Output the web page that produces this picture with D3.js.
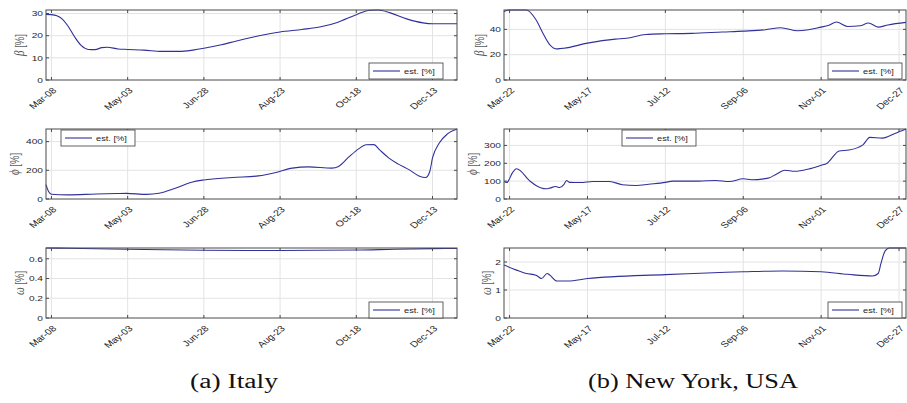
<!DOCTYPE html>
<html>
<head>
<meta charset="utf-8">
<script src="https://cdn.jsdelivr.net/npm/d3@7/dist/d3.min.js"></script>
<style>
body{margin:0;background:#fff}
text{font-family:"Liberation Sans",Arial,sans-serif;fill:#262626}
</style>
</head>
<body>
<svg id="fig" width="907" height="403"></svg>
<script>
// values, [date, value]
var italyBeta=[["2020-03-04",29.6],["2020-03-08",29.5],["2020-03-12",29],["2020-03-16",27.5],["2020-03-20",24.5],
	["2020-03-25",19.5],["2020-03-30",15.5],["2020-04-04",13.8],["2020-04-09",13.7],["2020-04-14",14.6],["2020-04-18",14.8],
	["2020-04-26",14.0],["2020-05-03",13.8],["2020-05-15",13.5],["2020-05-28",12.9],["2020-06-10",12.9],["2020-06-20",13.5],
	["2020-06-28",14.3],["2020-07-10",15.8],["2020-07-22",17.6],["2020-08-05",19.6],["2020-08-23",21.7],["2020-09-08",22.8],
	["2020-09-22",24],["2020-10-04",26],["2020-10-18",29.5],["2020-10-28",31.5],["2020-11-03",31.6],["2020-11-12",30.3],
	["2020-11-24",27.6],["2020-12-06",25.8],["2020-12-13",25.4],["2020-12-31",25.4]];
var italyPhi=[["2020-03-04",100],["2020-03-06",50],["2020-03-08",33],["2020-03-20",29],["2020-04-10",35],["2020-04-25",38],
	["2020-05-02",39],["2020-05-17",32],["2020-05-26",40],["2020-06-07",75],["2020-06-19",117],["2020-06-28",133],
	["2020-07-19",150],["2020-08-07",161],["2020-08-20",185],["2020-09-01",215],["2020-09-13",224],["2020-09-30",215],
	["2020-10-05",227],["2020-10-13",297],["2020-10-20",351],["2020-10-25",378],["2020-10-31",379],["2020-11-04",344],
	["2020-11-11",285],["2020-11-18",243],["2020-11-26",203],["2020-12-03",161],["2020-12-08",150],["2020-12-11",192],
	["2020-12-13",286],["2020-12-18",390],["2020-12-24",454],["2020-12-31",488]];
var italyOmega=[["2020-03-04",0.709],["2020-03-20",0.706],["2020-05-03",0.696],["2020-06-28",0.686],["2020-08-23",0.684],
	["2020-10-18",0.688],["2020-11-15",0.697],["2020-12-13",0.703],["2020-12-31",0.704]];
var nyBeta=[["2020-03-18",54.2],["2020-03-22",55.3],["2020-04-03",55.3],["2020-04-10",47.6],["2020-04-15",37],
	["2020-04-20",27.8],["2020-04-25",24.6],["2020-04-28",24.9],["2020-04-30",25.1],["2020-05-17",29.1],["2020-06-06",32.3],
	["2020-06-14",33],["2020-06-28",36],["2020-07-12",36.5],["2020-07-31",36.8],["2020-08-22",37.9],["2020-09-06",38.6],
	["2020-09-22",39.7],["2020-10-03",41.3],["2020-10-15",38.9],["2020-10-23",39.7],["2020-11-01",41.8],["2020-11-06",43],
	["2020-11-12",45.8],["2020-11-20",42.3],["2020-11-29",42.9],["2020-12-05",45],["2020-12-12",41.8],["2020-12-19",43.5],
	["2021-01-01",45.5]];
var nyPhi=[["2020-03-18",98],["2020-03-20",92],["2020-03-21",100],["2020-03-24",146],["2020-03-27",169],["2020-04-06",98],
	["2020-04-10",76],["2020-04-17",57],["2020-04-20",61],["2020-04-24",70],["2020-04-27",64],["2020-04-30",80],
	["2020-05-02",104],["2020-05-04",93],["2020-05-12",92],["2020-05-21",98],["2020-06-02",98],["2020-06-11",80],
	["2020-06-21",76],["2020-06-30",83],["2020-07-12",93],["2020-07-17",100],["2020-08-05",100],["2020-08-17",104],
	["2020-08-27",98],["2020-09-06",113],["2020-09-12",108],["2020-09-24",117],["2020-09-30",140],["2020-10-06",161],
	["2020-10-13",155],["2020-10-23",168],["2020-11-01",189],["2020-11-05",199],["2020-11-14",269],["2020-11-21",274],
	["2020-12-01",303],["2020-12-06",345],["2020-12-15",341],["2020-12-24",367],["2021-01-01",392]];
var nyOmega=[["2020-03-18",1.89],["2020-03-27",1.71],["2020-04-03",1.59],["2020-04-10",1.53],["2020-04-14",1.41],
	["2020-04-18",1.59],["2020-04-20",1.53],["2020-04-25",1.32],["2020-05-03",1.32],["2020-05-17",1.41],["2020-07-12",1.55],
	["2020-09-06",1.65],["2020-10-04",1.68],["2020-11-01",1.65],["2020-11-20",1.56],["2020-12-08",1.50],["2020-12-12",1.59],
	["2020-12-14",1.95],["2020-12-17",2.4],["2020-12-20",2.5],["2021-01-01",2.5]];

var italyTicks=["Mar-08","May-03","Jun-28","Aug-23","Oct-18","Dec-13"];
var nyTicks=["Mar-22","May-17","Jul-12","Sep-06","Nov-01","Dec-27"];
var italyRange=["2020-03-04","2020-12-31"];
var nyRange=["2020-03-18","2021-01-01"];

var yTicks={
	itBeta:[0,10,20,30], itPhi:[0,200,400], itOmega:[0,0.2,0.4,0.6],
	nyBeta:[0,20,40], nyPhi:[0,100,200,300], nyOmega:[0,1,2]
};

const sx=1.27; // the original figure is stretched sideways, text included
const lineColor="#30309a";
const parseDay=d3.timeParse("%Y-%m-%d");
const parseTick=d3.timeParse("%Y-%b-%d");
const svg=d3.select("#fig");

const cols=[{x0:46,x1:457},{x0:504,x1:906}];
const rows=[{y0:10,y1:80},{y0:129,y1:199},{y0:248,y1:318}];

// panel list: which data goes where, plus legend / ylabel placement
const panels=[
	{c:0,r:0,data:italyBeta,ticks:italyTicks,range:italyRange,yt:yTicks.itBeta,sym:"β",labX:20,leg:[369,63]},
	{c:0,r:1,data:italyPhi,ticks:italyTicks,range:italyRange,yt:yTicks.itPhi,sym:"ϕ",labX:15,leg:[61,130]},
	{c:0,r:2,data:italyOmega,ticks:italyTicks,range:italyRange,yt:yTicks.itOmega,sym:"ω",labX:20,leg:[369,302]},
	{c:1,r:0,data:nyBeta,ticks:nyTicks,range:nyRange,yt:yTicks.nyBeta,sym:"β",labX:480,leg:[828,63]},
	{c:1,r:1,data:nyPhi,ticks:nyTicks,range:nyRange,yt:yTicks.nyPhi,sym:"ϕ",labX:473,leg:[622,130]},
	{c:1,r:2,data:nyOmega,ticks:nyTicks,range:nyRange,yt:yTicks.nyOmega,sym:"ω",labX:487,leg:[828,302]}
];

panels.forEach(drawPanel);

function drawPanel(p) {
	let col=cols[p.c], row=rows[p.r];
	let pts=p.data.map(d=>({t:parseDay(d[0]),v:d[1]}));
	let year=p.range[0].slice(0,4);
	let tickDates=p.ticks.map(s=>parseTick(year+"-"+s));

	let x=d3.scaleTime().domain(p.range.map(parseDay)).range([col.x0,col.x1]);
	let y=d3.scaleLinear().domain([0,d3.max(pts,d=>d.v)]).range([row.y1,row.y0]);

	let g=svg.append("g");

	// grid
	g.selectAll(".gx").data(tickDates).enter().append("line")
		.attr("x1",d=>x(d)).attr("x2",d=>x(d)).attr("y1",row.y0).attr("y2",row.y1)
		.attr("stroke","#e3e3e3").attr("stroke-width",1);
	g.selectAll(".gy").data(p.yt.filter(v=>v>0)).enter().append("line")
		.attr("x1",col.x0).attr("x2",col.x1).attr("y1",d=>y(d)).attr("y2",d=>y(d))
		.attr("stroke","#e3e3e3").attr("stroke-width",1);

	// series
	let line=d3.line().x(d=>x(d.t)).y(d=>y(d.v)).curve(d3.curveMonotoneX);
	g.append("path").datum(pts).attr("d",line)
		.attr("fill","none").attr("stroke",lineColor).attr("stroke-width",1.1);

	// box + inward ticks on all sides
	g.append("rect").attr("x",col.x0).attr("y",row.y0)
		.attr("width",col.x1-col.x0).attr("height",row.y1-row.y0)
		.attr("fill","none").attr("stroke","#4a4a4a").attr("stroke-width",1);
	tickDates.forEach(function(d) {
		g.append("line").attr("x1",x(d)).attr("x2",x(d)).attr("y1",row.y1).attr("y2",row.y1-3).attr("stroke","#4a4a4a");
		g.append("line").attr("x1",x(d)).attr("x2",x(d)).attr("y1",row.y0).attr("y2",row.y0+3).attr("stroke","#4a4a4a");
	});
	p.yt.forEach(function(v) {
		g.append("line").attr("x1",col.x0).attr("x2",col.x0+3).attr("y1",y(v)).attr("y2",y(v)).attr("stroke","#4a4a4a");
		g.append("line").attr("x1",col.x1).attr("x2",col.x1-3).attr("y1",y(v)).attr("y2",y(v)).attr("stroke","#4a4a4a");
	});

	// tick labels
	p.ticks.forEach(function(lab,i) {
		g.append("text")
			.attr("transform",`translate(${x(tickDates[i])+3},${row.y1+9}) scale(${sx},1) rotate(-45)`)
			.attr("text-anchor","end").attr("dy","0.35em")
			.style("font-size","8.3px").text(lab);
	});
	p.yt.forEach(function(v) {
		g.append("text")
			.attr("transform",`translate(${col.x0-3},${y(v)}) scale(${sx},1)`)
			.attr("text-anchor","end").attr("dy","0.35em")
			.style("font-size","8px").text(v);
	});

	// y label
	let yl=g.append("text")
		.attr("transform",`translate(${p.labX},${(row.y0+row.y1)/2}) scale(${sx},1) rotate(-90)`)
		.attr("text-anchor","middle").attr("dy","0.35em")
		.style("font-size","9.5px").style("fill","#5a5a5a");
	yl.append("tspan").style("font-family","'Liberation Serif',serif").style("font-style","italic")
		.style("font-size","11px").text(p.sym);
	yl.append("tspan").text(" [%]");

	// legend
	let lx=p.leg[0], ly=p.leg[1];
	g.append("rect").attr("x",lx).attr("y",ly).attr("width",74).attr("height",16)
		.attr("fill","#fff").attr("stroke","#3a3a3a").attr("stroke-width",0.8);
	g.append("line").attr("x1",lx+4).attr("x2",lx+31).attr("y1",ly+8).attr("y2",ly+8)
		.attr("stroke",lineColor).attr("stroke-width",1.1);
	g.append("text").attr("transform",`translate(${lx+35},${ly+8}) scale(${sx},1)`)
		.attr("dy","0.35em").style("font-size","7.3px").text("est. [%]");
}

// sub captions
var captions=[{text:"(a) Italy",x:234,w:88},{text:"(b) New York, USA",x:693,w:210}];
captions.forEach(function(c) {
	svg.append("text").attr("x",c.x-c.w/2).attr("y",388)
		.attr("textLength",c.w).attr("lengthAdjust","spacingAndGlyphs")
		.style("font-family","'Liberation Serif',serif").style("font-size","20px").style("fill","#111")
		.text(c.text);
});
</script>
</body>
</html>
